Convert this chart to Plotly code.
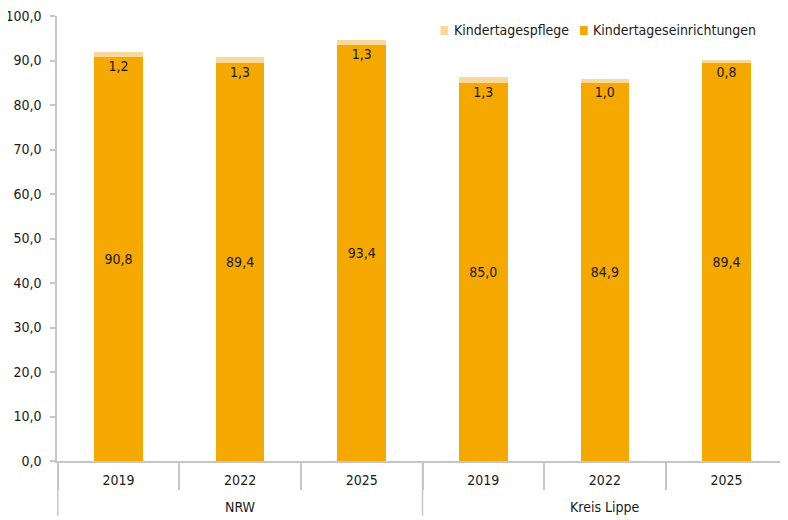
import plotly.graph_objects as go

regions = ["NRW", "NRW", "NRW", "Kreis Lippe", "Kreis Lippe", "Kreis Lippe"]
years = ["2019", "2022", "2025", "2019", "2022", "2025"]
einrichtungen = [90.8, 89.4, 93.4, 85.0, 84.9, 89.4]
pflege = [1.2, 1.3, 1.3, 1.3, 1.0, 0.8]
y_ticks = [0, 10, 20, 30, 40, 50, 60, 70, 80, 90, 100]

C_EIN = "#F5A800"
C_PFL = "#FAD899"
FONT = "DejaVu Sans Condensed"
FS = 14
GRAY = "#c6c6c6"

def fmt(v):
    return f"{v:.1f}".replace(".", ",")

cats = [f"{r} {y}" for r, y in zip(regions, years)]

fig = go.Figure()
fig.add_trace(go.Bar(
    x=cats, y=einrichtungen, name="Kindertageseinrichtungen",
    marker=dict(color=C_EIN, line=dict(width=0)),
    text=[fmt(v) for v in einrichtungen], textposition="inside",
    insidetextanchor="middle", textfont=dict(color="#1a1a1a", size=FS, family=FONT),
    showlegend=False, hoverinfo="skip",
))
fig.add_trace(go.Bar(
    x=cats, y=pflege, name="Kindertagespflege",
    marker=dict(color=C_PFL, line=dict(width=0)),
    showlegend=False, hoverinfo="skip",
))
fig.add_trace(go.Scatter(
    x=cats, y=einrichtungen, mode="markers+text",
    marker=dict(size=4, opacity=0),
    text=[fmt(v) for v in pflege], textposition="bottom center",
    textfont=dict(color="#1a1a1a", size=FS, family=FONT),
    showlegend=False, hoverinfo="skip",
))

# group labels and dividers (multi-level category axis)
groups = []
for i, r in enumerate(regions):
    if not groups or groups[-1][0] != r:
        groups.append([r, i, i])
    else:
        groups[-1][2] = i

annotations = []
shapes = []
for name, i0, i1 in groups:
    annotations.append(dict(
        x=(i0 + i1) / 2, y=-0.103, xref="x", yref="paper", text=name,
        showarrow=False, font=dict(size=FS, family=FONT, color="#1a1a1a"),
        xanchor="center", yanchor="middle",
    ))
    shapes.append(dict(type="line", xref="x", yref="paper", x0=i0 - 0.5, x1=i0 - 0.5,
                       y0=0, y1=-0.123, line=dict(color=GRAY, width=1.5)))
shapes.append(dict(type="line", xref="x", yref="paper", x0=len(cats) - 0.5, x1=len(cats) - 0.5,
                   y0=0, y1=-0.123, line=dict(color=GRAY, width=1.5)))

# legend drawn manually for compact symbol spacing
legend_items = [("Kindertagespflege", C_PFL, 0.5246), ("Kindertageseinrichtungen", C_EIN, 0.7155)]
for label, col, x0 in legend_items:
    shapes.append(dict(type="rect", xref="paper", yref="paper", x0=x0, x1=x0 + 0.0105,
                       y0=0.9573, y1=0.9775, fillcolor=col, line=dict(width=0)))
    annotations.append(dict(x=x0 + 0.0155, y=0.9675, xref="paper", yref="paper", text=label,
                            showarrow=False, xanchor="left", yanchor="middle",
                            font=dict(size=FS, family=FONT, color="#1a1a1a")))

# the page body has an 8px default margin; size the figure to fit the 788x520 window
fig.update_layout(
    width=780, height=512,
    barmode="stack", bargap=0.6,
    plot_bgcolor="white", paper_bgcolor="white",
    margin=dict(l=49, r=0, t=8, b=59),
    font=dict(family=FONT, size=FS, color="#1a1a1a"),
    showlegend=False,
    separators=", ",
    annotations=annotations, shapes=shapes,
)
fig.update_xaxes(
    type="category", tickvals=cats, ticktext=years,
    showline=True, linecolor=GRAY, linewidth=1.5,
    ticks="outside", tickson="boundaries", ticklen=27, tickcolor=GRAY, tickwidth=1.5,
    showgrid=False, automargin=False, tickfont=dict(size=FS, family=FONT),
    ticklabelstandoff=5,
)
fig.update_yaxes(
    range=[0, 100], tickvals=y_ticks, tickformat=".1f",
    showline=True, linecolor=GRAY, linewidth=1.5,
    ticks="outside", ticklen=5, tickcolor=GRAY, tickwidth=1.5, showgrid=False,
    zeroline=False, automargin=False, ticklabelstandoff=6,
    ticklabeloverflow="allow",
    tickfont=dict(size=FS, family=FONT),
)
fig.write_html("out.html")
